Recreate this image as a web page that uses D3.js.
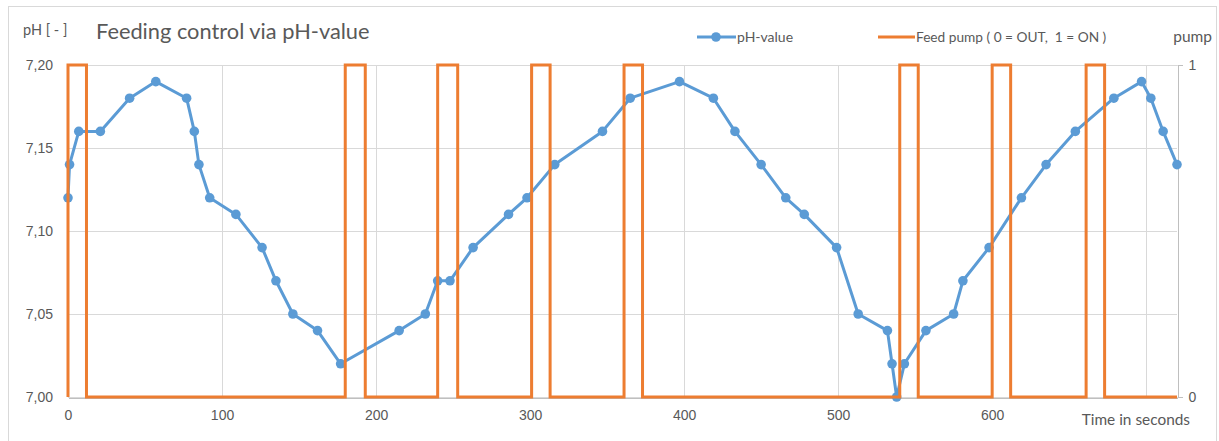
<!DOCTYPE html>
<html>
<head>
	<meta charset="utf-8">
	<title>Feeding control via pH-value</title>
	<script src="https://cdn.jsdelivr.net/npm/d3@7/dist/d3.min.js"></script>
	<style>
		body { margin: 0; background: #fff; }
		svg { font-family: Lato, "Liberation Sans", sans-serif; }
		.axis text { fill: #595959; font-size: 14px; }
		.grid line { stroke: #d9d9d9; stroke-width: 1; shape-rendering: crispEdges; }
		.lbl { fill: #595959; }
	</style>
</head>
<body>
<script>
	// pH-Messung: Zeit (s) und Wert
	var phTime  = [0, 1, 7, 21, 40, 57, 77, 82, 85, 92, 109, 126, 135, 146, 162, 177,
		215, 232, 240, 248, 263, 286, 298, 316, 347, 365, 397, 419, 433, 450, 466, 478,
		499, 513, 532, 535, 538, 543, 557, 575, 581, 598, 619, 635, 654, 679, 697, 703, 711, 720];
	var phValue = [7.12, 7.14, 7.16, 7.16, 7.18, 7.19, 7.18, 7.16, 7.14, 7.12, 7.11, 7.09, 7.07, 7.05, 7.04, 7.02,
		7.04, 7.05, 7.07, 7.07, 7.09, 7.11, 7.12, 7.14, 7.16, 7.18, 7.19, 7.18, 7.16, 7.14, 7.12, 7.11,
		7.09, 7.05, 7.04, 7.02, 7.00, 7.02, 7.04, 7.05, 7.07, 7.09, 7.12, 7.14, 7.16, 7.18, 7.19, 7.18, 7.16, 7.14];

	// Pumpe: Schaltzeitpunkte und Zustand (0 = aus, 1 = an)
	var pumpTime  = [0, 0, 12, 12, 180, 180, 193, 193, 240, 240, 253, 253, 301, 301, 313, 313,
		361, 361, 373, 373, 540, 540, 552, 552, 600, 600, 612, 612, 661, 661, 673, 673, 720];
	var pumpState = [0, 1, 1, 0, 0, 1, 1, 0, 0, 1, 1, 0, 0, 1, 1, 0,
		0, 1, 1, 0, 0, 1, 1, 0, 0, 1, 1, 0, 0, 1, 1, 0, 0];

	var xGrid = [0, 100, 200, 300, 400, 500, 600, 700];
	var xLabels = [0, 100, 200, 300, 400, 500, 600];   // 700 wird vom Achsentitel verdeckt
	var yTicks = [7.00, 7.05, 7.10, 7.15, 7.20];
	var y2Ticks = [0, 1];

	var width = 1219, height = 441;
	var plot = {left: 68, right: 1177, top: 65, bottom: 397};

	var svg = d3.select("body").append("svg")
		.attr("width", width)
		.attr("height", height);

	// Rahmen
	svg.append("rect")
		.attr("x", 8.5).attr("y", 6.5)
		.attr("width", 1208).attr("height", 460)
		.attr("fill", "none")
		.attr("stroke", "#d9d9d9");

	var x = d3.scaleLinear().domain([0, 720]).range([plot.left, plot.right]);
	var y = d3.scaleLinear().domain([7.0, 7.2]).range([plot.bottom, plot.top]);
	var y2 = d3.scaleLinear().domain([0, 1]).range([plot.bottom, plot.top]);

	var deFormat = d3.formatLocale({decimal: ",", thousands: ".", grouping: [3], currency: ["", "€"]}).format(".2f");

	// Gitter
	svg.append("g").attr("class", "grid")
		.selectAll("line.h").data(yTicks).enter().append("line")
		.attr("x1", plot.left).attr("x2", plot.right)
		.attr("y1", function(d){ return Math.round(y(d)) + 0.5; })
		.attr("y2", function(d){ return Math.round(y(d)) + 0.5; });
	svg.append("g").attr("class", "grid")
		.selectAll("line.v").data(xGrid).enter().append("line")
		.attr("y1", plot.top).attr("y2", plot.bottom)
		.attr("x1", function(d){ return Math.round(x(d)) + 0.5; })
		.attr("x2", function(d){ return Math.round(x(d)) + 0.5; });

	// Achsen
	var yAxis = d3.axisLeft(y).tickValues(yTicks).tickFormat(deFormat).tickSize(0).tickPadding(15);
	svg.append("g").attr("class", "axis")
		.attr("transform", "translate(" + plot.left + ",0)")
		.call(yAxis)
		.call(function(g){ g.select(".domain").remove(); });

	var xAxis = d3.axisBottom(x).tickValues(xLabels).tickFormat(d3.format("d")).tickSize(0).tickPadding(13);
	svg.append("g").attr("class", "axis")
		.attr("transform", "translate(0," + (plot.bottom + 0.5) + ")")
		.call(xAxis)
		.call(function(g){
			g.select(".domain").attr("stroke", "#bfbfbf").attr("shape-rendering", "crispEdges");
		});

	var y2Axis = d3.axisRight(y2).tickValues(y2Ticks).tickFormat(d3.format("d")).tickSize(5).tickPadding(6);
	svg.append("g").attr("class", "axis")
		.attr("transform", "translate(" + (plot.right + 0.5) + ",0)")
		.call(y2Axis)
		.call(function(g){
			g.select(".domain").attr("stroke", "#bfbfbf").attr("shape-rendering", "crispEdges");
			g.selectAll(".tick line").attr("stroke", "#bfbfbf");
		});

	// pH-Kurve
	var phData = phTime.map(function(t, i){ return [t, phValue[i]]; });
	var phLine = d3.line()
		.x(function(d){ return x(d[0]); })
		.y(function(d){ return y(d[1]); });
	svg.append("path")
		.datum(phData)
		.attr("d", phLine)
		.attr("fill", "none")
		.attr("stroke", "#5b9bd5")
		.attr("stroke-width", 3)
		.attr("stroke-linejoin", "round");
	svg.selectAll(".dot").data(phData).enter().append("circle")
		.attr("class", "dot")
		.attr("cx", function(d){ return x(d[0]); })
		.attr("cy", function(d){ return y(d[1]); })
		.attr("r", 4.8)
		.attr("fill", "#5b9bd5");

	// Pumpe
	var pumpData = pumpTime.map(function(t, i){ return [t, pumpState[i]]; });
	var pumpLine = d3.line()
		.x(function(d){ return x(d[0]); })
		.y(function(d){ return y2(d[1]); });
	svg.append("path")
		.datum(pumpData)
		.attr("d", pumpLine)
		.attr("fill", "none")
		.attr("stroke", "#ed7d31")
		.attr("stroke-width", 3);

	// Texte
	svg.append("text").attr("class", "lbl")
		.attr("x", 96).attr("y", 39)
		.attr("font-size", 21.8)
		.text("Feeding control via pH-value");
	svg.append("text").attr("class", "lbl")
		.attr("x", 23).attr("y", 35)
		.attr("font-size", 14.5)
		.text("pH [ - ]");
	svg.append("text").attr("class", "lbl")
		.attr("x", 1212).attr("y", 42)
		.attr("text-anchor", "end")
		.attr("font-size", 15.5)
		.text("pump");
	svg.append("text").attr("class", "lbl")
		.attr("x", 1190).attr("y", 425)
		.attr("text-anchor", "end")
		.attr("font-size", 15.4)
		.text("Time in seconds");

	// Legende
	var leg = svg.append("g").attr("transform", "translate(0,37)");
	leg.append("line").attr("x1", 697).attr("x2", 736).attr("y1", 0).attr("y2", 0)
		.attr("stroke", "#5b9bd5").attr("stroke-width", 3);
	leg.append("circle").attr("cx", 716).attr("cy", 0).attr("r", 4.8).attr("fill", "#5b9bd5");
	leg.append("text").attr("class", "lbl").attr("x", 737).attr("y", 5)
		.attr("font-size", 14).text("pH-value");
	leg.append("line").attr("x1", 878).attr("x2", 915).attr("y1", 0).attr("y2", 0)
		.attr("stroke", "#ed7d31").attr("stroke-width", 3);
	leg.append("text").attr("class", "lbl").attr("x", 916).attr("y", 5)
		.attr("font-size", 13.7).attr("xml:space", "preserve")
		.text("Feed pump ( 0 = OUT,  1 = ON )");
</script>
</body>
</html>
